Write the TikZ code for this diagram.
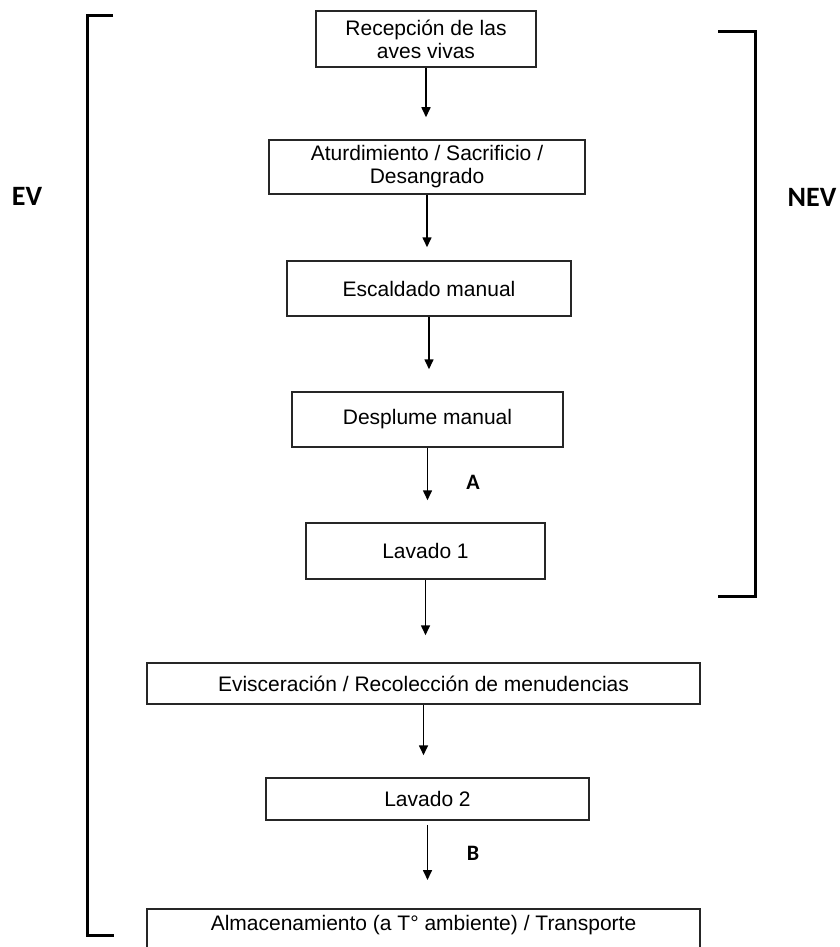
\documentclass[tikz,border=0pt]{standalone}
\usepackage{fontspec}
\setmainfont{Liberation Sans}
\newfontfamily\lblfont{Carlito}
\usetikzlibrary{arrows.meta}

\tikzset{
    paso/.style={draw=black!85, line width=1.5pt, align=center, inner sep=0pt,
        font=\fontsize{21}{23}\selectfont},
    flecha/.style={draw, line width=1.6pt, -{Triangle[width=9pt,length=10pt]}, shorten >=22pt},
    llave/.style={draw, line width=3pt},
    etiq/.style={font=\lblfont\bfseries\fontsize{22}{24}\selectfont}
}

\begin{document}
\begin{tikzpicture}[x=1pt,y=-1pt]
        \useasboundingbox (0,0) rectangle (839,947);

        \node[paso, minimum width=220pt, minimum height=56pt] (recep) at (426,39) {Recepción de las\\aves vivas};
        \node[paso, minimum width=316pt, minimum height=54pt] (aturd) at (427,167) {Aturdimiento / Sacrificio /\\Desangrado};
        \node[paso, minimum width=284pt, minimum height=55pt] (escald) at (429,288.5) {Escaldado manual};
        \node[paso, minimum width=271pt, minimum height=55pt] (despl) at (427.5,419.5) {Desplume manual};
        \node[paso, minimum width=239pt, minimum height=56pt] (lav1) at (425.5,551) {Lavado 1};
        \node[paso, minimum width=553pt, minimum height=41pt] (evisc) at (423.5,683.5) {Evisceración / Recolección de menudencias};
        \node[paso, minimum width=323pt, minimum height=42pt] (lav2) at (427.5,799) {Lavado 2};
        \node[paso, minimum width=553pt, anchor=north, inner ysep=7pt, text depth=40pt] (almac) at (423.5,908) {Almacenamiento (a T° ambiente) / Transporte};

        \path[flecha] (recep) -- (recep |- aturd.north);
        \path[flecha, shorten >=13pt] (aturd) -- (aturd |- escald.north);
        \path[flecha] (escald) -- (escald |- despl.north);
        \path[flecha] (despl) -- (despl |- lav1.north);
        \path[flecha, shorten >=27pt] (lav1) -- (lav1 |- evisc.north);
        \path[flecha] (evisc) -- (evisc |- lav2.north);
        \path[flecha, shorten <=4pt, shorten >=28pt] (lav2) -- (lav2 |- almac.north);

        % llaves
        \path[llave] (113,16) -- (87,16) -- (87,935) -- (114,935);
        \path[llave] (718,32) -- (755,32) -- (755,596) -- (718,596);

        \node[etiq, font=\lblfont\bfseries\fontsize{28}{30}\selectfont] (ev) at (27,196) {EV};
        \node[etiq, font=\lblfont\bfseries\fontsize{28}{30}\selectfont] (nev) at (812,197) {NEV};
        \node[etiq] (a) at (473,482) {A};
        \node[etiq] (b) at (473,853) {B};
    \end{tikzpicture}
\end{document}
